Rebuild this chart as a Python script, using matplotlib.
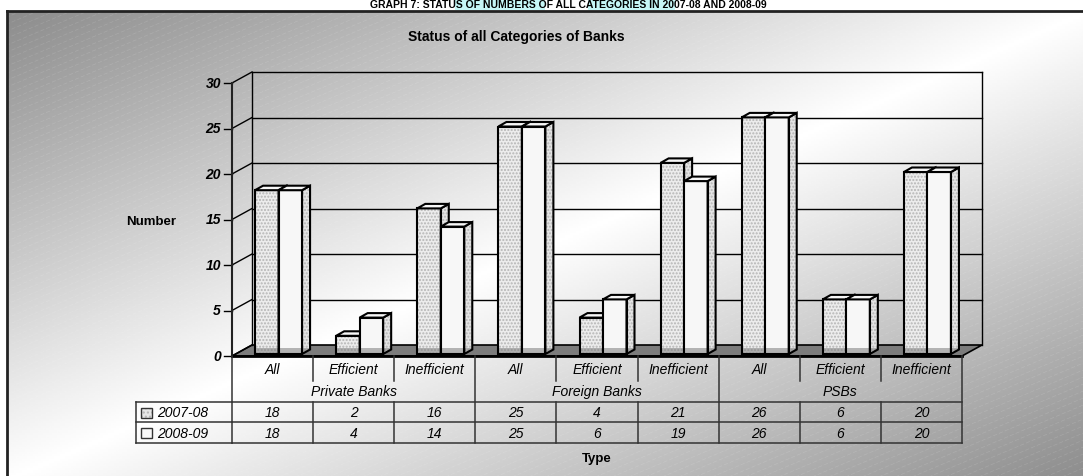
import matplotlib.pyplot as plt
import numpy as np
from matplotlib.patches import Polygon, Rectangle
from matplotlib.collections import LineCollection
from matplotlib import transforms

plt.rcParams['font.family'] = ['Liberation Sans', 'DejaVu Sans']

# data
groups = ['Private Banks', 'Foreign Banks', 'PSBs']
subtypes = ['All', 'Efficient', 'Inefficient']
series = ['2007-08', '2008-09']
vals_0708 = [18, 2, 16, 25, 4, 21, 26, 6, 20]
vals_0809 = [18, 4, 14, 25, 6, 19, 26, 6, 20]
yticks = [0, 5, 10, 15, 20, 25, 30]

W, H = 1083, 477
fig = plt.figure(figsize=(W / 100, H / 100), dpi=100)
fig.patch.set_facecolor('white')

# background layer in pixel coordinates
bg = fig.add_axes([0, 0, 1, 1])
xx, yy = np.meshgrid(np.linspace(0, 1, 400), np.linspace(0, 1, 200))
t = (xx + yy) / 2
shade = 1 - 0.45 * np.abs(t - 0.5) * 2
bg.imshow(shade, cmap='gray', vmin=0, vmax=1, extent=[7, W + 5, H + 5, 12],
          aspect='auto', interpolation='bilinear', zorder=0)
bg.set_xlim(0, W)
bg.set_ylim(H, 0)
bg.axis('off')

# faint diagonal stripes
segs = []
for c in np.arange(0, 1600, 7):
    segs.append([(0, c), (W + 10, c - 0.42 * (W + 10))])
lc = LineCollection(segs, colors='white', linewidths=0.5, alpha=0.13,
                    linestyles=(0, (6, 3)), zorder=1)
bg.add_collection(lc)
clip = Rectangle((7, 12), W, H, transform=bg.transData)
lc.set_clip_path(clip)

# outer frame
bg.plot([7, 7], [H + 5, 12], color='#222222', lw=2, zorder=5)
bg.plot([7, W + 5], [12, 12], color='#222222', lw=2, zorder=5)

# page heading above the frame, with highlight
for x0, x1 in [(455, 545), (588, 675)]:
    bg.add_patch(Rectangle((x0, -2), x1 - x0, 13, color='#c6f7f7', lw=0, zorder=1))
bg.text(568, 0.5, 'GRAPH 7: STATUS OF NUMBERS OF ALL CATEGORIES IN 2007-08 AND 2008-09',
        ha='center', va='top', fontsize=7.5, weight='bold', zorder=2)

bg.text(516, 37, 'Status of all Categories of Banks', ha='center', va='center',
        fontsize=10, weight='bold')
bg.text(151, 222, 'Number', ha='center', va='center', fontsize=9.5, weight='bold')
bg.text(597, 459, 'Type', ha='center', va='center', fontsize=9.5, weight='bold')

# chart axes
L, R, B, T = 232, 962, 357, 84
ax = fig.add_axes([L / W, 1 - B / H, (R - L) / W, (B - T) / H])
ax.set_xlim(-0.5, 8.5)
ax.set_ylim(0, 30)
ax.axis('off')
kx = 9 / (R - L)
ky = 30 / (B - T)

wdx, wdy = 20 * kx, 11 * ky

# floor
ax.add_patch(Polygon([(-0.5, 0), (8.5, 0), (8.5 + wdx, wdy), (-0.5 + wdx, wdy)],
                     closed=True, fc='#7c7c7c', ec='black', lw=1.2, clip_on=False, zorder=1))
ax.plot([-0.5, 8.5], [0, 0], color='black', lw=2, clip_on=False, zorder=2)

# back wall, grid and side wall
for v in yticks[1:]:
    ax.plot([-0.5 + wdx, 8.5 + wdx], [v + wdy, v + wdy], color='black', lw=1, clip_on=False, zorder=1)
for v in yticks:
    ax.plot([-0.5, -0.5 + wdx], [v, v + wdy], color='black', lw=1, clip_on=False, zorder=1)
    ax.plot([-0.5 - 8 * kx, -0.5], [v, v], color='black', lw=1, clip_on=False, zorder=1)
    ax.text(-0.5 - 11 * kx, v, str(v), ha='right', va='center', fontsize=10,
            weight='bold', style='italic')
ax.plot([-0.5, -0.5], [0, 30], color='#222222', lw=1.5, clip_on=False, zorder=1)
ax.plot([-0.5 + wdx, -0.5 + wdx], [wdy, 30 + wdy], color='black', lw=1, clip_on=False, zorder=1)
ax.plot([8.5 + wdx, 8.5 + wdx], [wdy, 30 + wdy], color='black', lw=1, clip_on=False, zorder=1)

# bars
x = np.arange(len(vals_0708))
bw = 23.5 * kx
shift = 6 * kx
base = 2 * ky
ddx, ddy = 8 * kx, 4.5 * ky


def draw_bars(left, vals, face, dotted, z):
    bars = ax.bar(left, vals, width=bw, bottom=base, align='edge', color=face,
                  hatch='.....' if dotted else None, edgecolor='#b5b5b5', lw=0, zorder=z)
    ax.bar(left, vals, width=bw, bottom=base, align='edge', fill=False,
           edgecolor='black', lw=1.5, zorder=z + 0.2)
    for r in bars:
        x0, y0, w, h = r.get_x(), r.get_y(), r.get_width(), r.get_height()
        side = [(x0 + w, y0), (x0 + w + ddx, y0 + ddy), (x0 + w + ddx, y0 + h + ddy), (x0 + w, y0 + h)]
        top = [(x0, y0 + h), (x0 + ddx, y0 + h + ddy), (x0 + w + ddx, y0 + h + ddy), (x0 + w, y0 + h)]
        ax.add_patch(Polygon(side, closed=True, fc='#e4e4e4', ec='#b5b5b5', hatch='.....',
                             lw=0, zorder=z))
        ax.add_patch(Polygon(side, closed=True, fill=False, ec='black', lw=1.5, zorder=z + 0.2))
        ax.add_patch(Polygon(top, closed=True, fc='#f6f6f6', ec='black', lw=1.5, zorder=z + 0.2))
        # floor showing through at the foot of the bar
        ax.add_patch(Rectangle((x0, y0), w + ddx, 6 * ky, fc='#7c7c7c', alpha=0.55,
                               lw=0, zorder=z + 0.1))


draw_bars(x + shift - bw, vals_0708, '#ececec', True, 3)
draw_bars(x + shift, vals_0809, '#f7f7f7', False, 4)

# data table under the chart
tr = transforms.blended_transform_factory(ax.transData, bg.transData)
edges = np.arange(len(x) + 1) - 0.5
lc_kw = dict(transform=tr, clip_on=False, color='#333333', lw=1.1)
for k, e in enumerate(edges):
    if k % 3 == 0:
        ax.plot([e, e], [357, 444], **lc_kw)
    else:
        ax.plot([e, e], [357, 382], **lc_kw)
        ax.plot([e, e], [403, 444], **lc_kw)
for yl in (403, 423, 444):
    ax.plot([-0.5, 8.5], [yl, yl], **lc_kw)
    bg.plot([136, 232], [yl, yl], color='#333333', lw=1.1)
bg.plot([136, 136], [403, 444], color='#333333', lw=1.1)

for i in x:
    ax.text(i, 370, subtypes[i % 3], transform=tr, ha='center', va='center',
            fontsize=10, style='italic')
    ax.text(i, 413.5, str(vals_0708[i]), transform=tr, ha='center', va='center',
            fontsize=10, style='italic')
    ax.text(i, 434, str(vals_0809[i]), transform=tr, ha='center', va='center',
            fontsize=10, style='italic')
for g, name in enumerate(groups):
    ax.text(3 * g + 1, 392, name, transform=tr, ha='center', va='center',
            fontsize=10, style='italic')

# legend keys in the table
for j, (name, yc) in enumerate(zip(series, (413.5, 434))):
    bg.add_patch(Rectangle((141, yc - 5), 11, 10, fc='#e6e6e6' if j == 0 else '#f8f8f8',
                           ec='#b5b5b5', hatch='....' if j == 0 else None, lw=0))
    bg.add_patch(Rectangle((141, yc - 5), 11, 10, fill=False, ec='#333333', lw=1))
    bg.text(157, yc, name, ha='left', va='center', fontsize=10, style='italic')

fig.savefig('out.png', dpi=100)
